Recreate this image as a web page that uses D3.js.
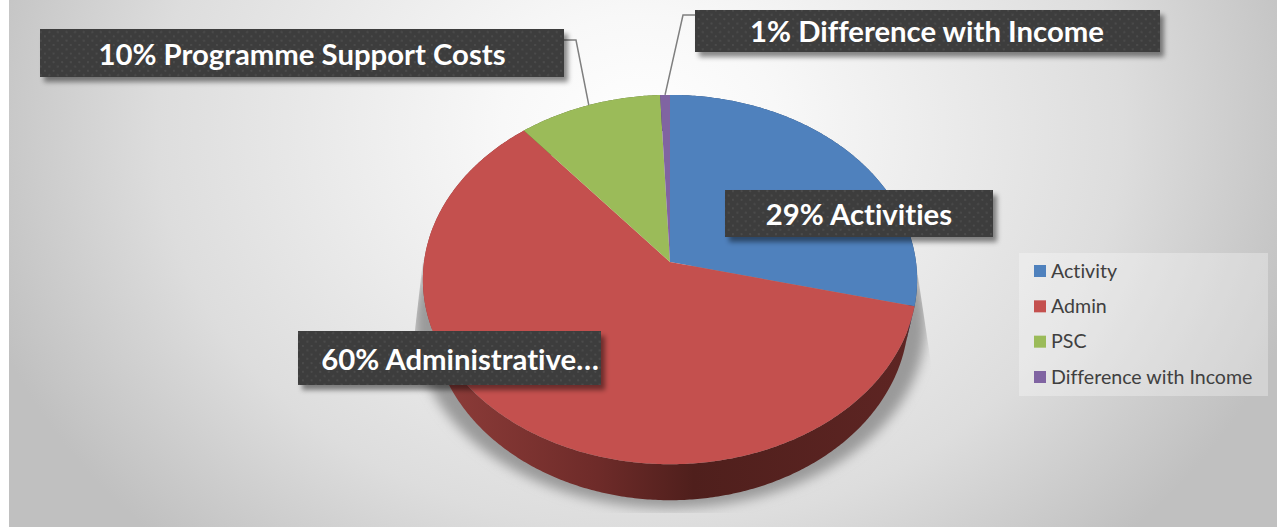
<!DOCTYPE html>
<html>
<head>
<meta charset="utf-8">
<script src="https://cdn.jsdelivr.net/npm/d3@7"></script>
<style>
  html, body { margin: 0; padding: 0; background: #fff; }
  svg { display: block; }
  text { font-family: Lato, "Open Sans", sans-serif; font-variant-ligatures: none; }
</style>
</head>
<body>
<div id="chart"></div>
<script>
// Tilted 3D pie with dark callout labels
var categories = ['Activity', 'Admin', 'PSC', 'Difference with Income'];
var values = [28.8, 60.2, 10.3, 0.7];
var colors = ['#4f81bd', '#c4504e', '#9bbb59', '#8064a2'];
var wallColors = ['#2c4a70', '#5a2320', '#55682f', '#463759'];
var calloutTexts = ['29% Activities', '60% Administrative…', '10% Programme Support Costs', '1% Difference with Income'];

var W = 1277, H = 527;
var svg = d3.select('#chart').append('svg').attr('width', W).attr('height', H);
var defs = svg.append('defs');

// Background
var bg = defs.append('radialGradient').attr('id', 'bg')
    .attr('gradientUnits', 'userSpaceOnUse')
    .attr('cx', 0).attr('cy', 0).attr('r', 1)
    .attr('gradientTransform', 'translate(640,130) scale(690,570)');
bg.append('stop').attr('offset', 0).attr('stop-color', '#ffffff');
bg.append('stop').attr('offset', 0.2).attr('stop-color', '#f8f8f8');
bg.append('stop').attr('offset', 0.7).attr('stop-color', '#dddddd');
bg.append('stop').attr('offset', 1).attr('stop-color', '#c0c0c0');
svg.append('rect').attr('x', 9).attr('y', 0).attr('width', W - 9).attr('height', H).attr('fill', 'url(#bg)');

// Perspective projection of the pie disc: centre stays at (cx, cy),
// the far edge shrinks a little and the near edge grows.
// The underside sits lower and slightly narrower, so the wall tapers out at the sides.
var cx = 670, cy = 262, A = 246, B = 183, k = 0.095, depth = 36, underScale = 0.965;
function project(theta, r, dy, sx) {
    var w = 1 + k * Math.cos(theta) * r;
    return [cx + (sx || 1) * A * Math.sin(theta) * r / w, cy - B * Math.cos(theta) * r / w + (dy || 0)];
}
function rim(a0, a1, dy, sx) {
    var n = Math.max(2, Math.ceil((a1 - a0) / 0.01));
    return d3.range(n + 1).map(function (i) {
        return project(a0 + (a1 - a0) * i / n, 1, dy, sx);
    });
}
var line = d3.line();

var arcs = d3.pie().sort(null)(values);

// Ground shadow, cut off flat at the bottom and slanted at the sides
defs.append('filter').attr('id', 'blur').attr('x', '-20%').attr('y', '-20%').attr('width', '140%').attr('height', '140%')
    .append('feGaussianBlur').attr('stdDeviation', 6);
defs.append('clipPath').attr('id', 'shadowClip').append('path')
    .attr('d', 'M423,260L917,270L932,370V513H415V330Z');
svg.append('g').attr('clip-path', 'url(#shadowClip)')
    .append('path')
    .attr('d', line(rim(0, 2 * Math.PI, 44, 1.035)) + 'Z')
    .attr('fill', '#9a9a9a')
    .attr('filter', 'url(#blur)');

// Wall gradient for the big red slice
var wallGrad = defs.append('linearGradient').attr('id', 'wall1')
    .attr('gradientUnits', 'userSpaceOnUse')
    .attr('x1', 430).attr('x2', 910).attr('y1', 0).attr('y2', 0);
wallGrad.append('stop').attr('offset', 0).attr('stop-color', '#8f3d3a');
wallGrad.append('stop').attr('offset', 0.35).attr('stop-color', '#6e2b29');
wallGrad.append('stop').attr('offset', 0.55).attr('stop-color', '#4f1f1c');
wallGrad.append('stop').attr('offset', 1).attr('stop-color', '#5e2523');

// Walls
svg.append('g').selectAll('path').data(arcs).join('path')
    .attr('d', function (d) {
        return line(rim(d.startAngle, d.endAngle, 0).concat(rim(d.startAngle, d.endAngle, depth, underScale).reverse())) + 'Z';
    })
    .attr('fill', function (d, i) { return i === 1 ? 'url(#wall1)' : wallColors[i]; });

// Top faces
svg.append('g').selectAll('path').data(arcs).join('path')
    .attr('d', function (d) {
        return line([project(0, 0)].concat(rim(d.startAngle, d.endAngle, 0))) + 'Z';
    })
    .attr('fill', function (d, i) { return colors[i]; });

// Callout boxes
var pat = defs.append('pattern').attr('id', 'dots').attr('patternUnits', 'userSpaceOnUse')
    .attr('width', 8.6).attr('height', 8.6);
pat.append('rect').attr('width', 8.6).attr('height', 8.6).attr('fill', '#3c3c3c');
pat.append('rect').attr('x', 1).attr('y', 1).attr('width', 2).attr('height', 2).attr('fill', '#4c4c4c');
pat.append('rect').attr('x', 5.3).attr('y', 5.3).attr('width', 2).attr('height', 2).attr('fill', '#4c4c4c');

var boxShadow = defs.append('filter').attr('id', 'boxShadow').attr('x', '-5%').attr('y', '-20%').attr('width', '110%').attr('height', '150%');
boxShadow.append('feDropShadow').attr('dx', 4).attr('dy', 5).attr('stdDeviation', 2.5)
    .attr('flood-color', '#000').attr('flood-opacity', 0.45);

var boxX = [725, 298, 40, 695], boxY = [190, 331, 29, 10];
var boxW = [268, 303, 524, 465], boxH = [47, 54, 48, 42];
var textX = [859, 460, 302, 927], textY = [225, 370, 65, 42];

// Leader lines run from the mid angle of the small slices to their boxes
function leader(i, side, elbowX, elbowY) {
    var d = arcs[i];
    var p = project((d.startAngle + d.endAngle) / 2, 1);
    return line([[side, elbowY], [elbowX, elbowY], p]);
}
var leaders = svg.append('g').attr('fill', 'none').attr('stroke', '#7f7f7f').attr('stroke-width', 1.5);
leaders.append('path').attr('d', leader(2, 564, 576, 40));
leaders.append('path').attr('d', leader(3, 695, 683, 15));

svg.append('g').selectAll('rect').data(calloutTexts).join('rect')
    .attr('x', function (d, i) { return boxX[i]; })
    .attr('y', function (d, i) { return boxY[i]; })
    .attr('width', function (d, i) { return boxW[i]; })
    .attr('height', function (d, i) { return boxH[i]; })
    .attr('fill', 'url(#dots)')
    .attr('filter', 'url(#boxShadow)');

svg.append('g').selectAll('text').data(calloutTexts).join('text')
    .attr('x', function (d, i) { return textX[i]; })
    .attr('y', function (d, i) { return textY[i]; })
    .attr('text-anchor', 'middle')
    .attr('font-size', 29.3)
    .attr('font-weight', 700)
    .attr('fill', '#fff')
    .text(function (d) { return d; });

// Legend
svg.append('rect').attr('x', 1019).attr('y', 253).attr('width', 249).attr('height', 143)
    .attr('fill', '#fff').attr('fill-opacity', 0.3);
var legendY = d3.scalePoint().domain(categories).range([271, 377]);
var legend = svg.append('g').selectAll('g').data(categories).join('g')
    .attr('transform', function (d) { return 'translate(1034,' + legendY(d) + ')'; });
legend.append('rect').attr('x', 0).attr('y', -6).attr('width', 12).attr('height', 12)
    .attr('fill', function (d, i) { return colors[i]; });
legend.append('text').attr('x', 17).attr('y', 6.5)
    .attr('font-size', 19.6).attr('fill', '#404040')
    .text(function (d) { return d; });
</script>
</body>
</html>
